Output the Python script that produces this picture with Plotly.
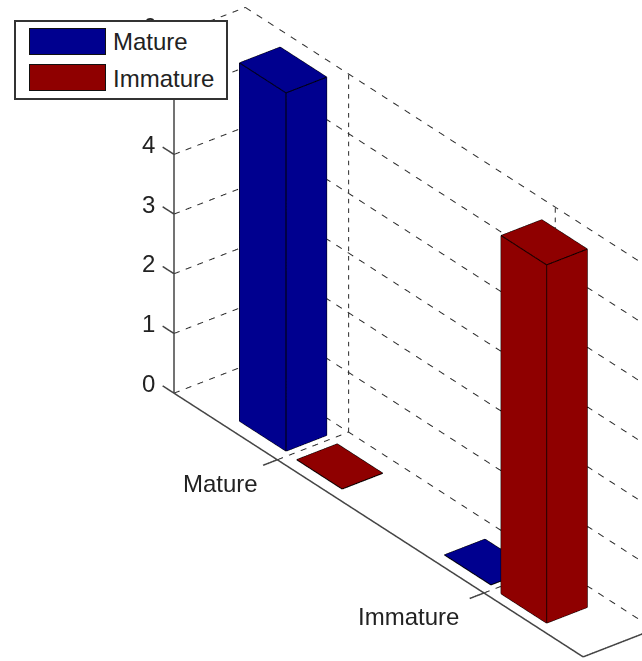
import numpy as np
import plotly.graph_objects as go

# ---- data ----
categories = ["Mature", "Immature"]
series_names = ["Mature", "Immature"]
mature_values = [6, 0]
immature_values = [0, 6]
z_ticks = [0, 1, 2, 3, 4, 5, 6]
x_ticks = [1, 2]
series_colors = ["#00008F", "#8F0000"]

W, H = 642, 661
X_LIM = (0.5, 2.48)
Y_LIM = (0.5, 1.5)
Z_LIM = (0, 6)
X_RANGE = (0.42, 2.5)
Y_RANGE = (0.28, 1.52)
Z_RANGE = (-0.02, 6.02)
BAR_X = [(-0.25, -0.025), (0.035, 0.255)]
BAR_Y = (0.67, 1.24)
BAR_Y_NUDGE = [[0.025, 0.0], [0.0, -0.03]]
GRID = "#2A2A2A"
AXIS = "#444444"
FONT = "Liberation Sans"
TEXT = dict(family=FONT, size=24, color="#222222")

# ---- view (orthographic, azimuth / elevation) ----
az, el = np.radians(52.2), np.radians(30)
sx, sy, sz = 336.0, 89.9, 68.7       # px per data unit on each axis
K = 329.4                            # px per scene unit
rx, ry, rz = X_RANGE[1] - X_RANGE[0], Y_RANGE[1] - Y_RANGE[0], Z_RANGE[1] - Z_RANGE[0]
ar = dict(x=rx * sx / K, y=ry * sy / K, z=rz * sz / K)
ux, uy = sx * np.cos(az), sx * np.sin(az) * np.sin(el)
vx, vy = sy * np.sin(az), -sy * np.cos(az) * np.sin(el)
wy = -sz * np.cos(el)
O = np.array([174.5, 393.0])


def screen(x, y, z):
    return O + (x - 0.5) * np.array([ux, uy]) + (y - 0.5) * np.array([vx, vy]) + z * np.array([0, wy])


mid = screen(sum(X_RANGE) / 2, sum(Y_RANGE) / 2, sum(Z_RANGE) / 2)
a, b = np.linalg.solve(np.array([[ux, vx], [uy, vy]]), np.array([W / 2, H / 2]) - mid)
center = np.array([a * sx / K, b * sy / K, 0.0])
direction = np.array([np.cos(el) * np.sin(az), -np.cos(el) * np.cos(az), np.sin(el)])
eye = center + 2.4 * direction


def segs(pairs):
    xs, ys, zs = [], [], []
    for p, q in pairs:
        xs += [p[0], q[0], None]
        ys += [p[1], q[1], None]
        zs += [p[2], q[2], None]
    return xs, ys, zs


def lines(pairs, color, width):
    xs, ys, zs = segs(pairs)
    return go.Scatter3d(x=xs, y=ys, z=zs, mode="lines", hoverinfo="skip", showlegend=False,
                        line=dict(color=color, width=width))


def dashed(p, q, period, on=0.48):
    """Split one grid line into dash pieces of a fixed on-screen period."""
    p, q = np.array(p, float), np.array(q, float)
    length = np.linalg.norm(screen(*q) - screen(*p))
    out = []
    for start in np.arange(0, length, period):
        t0, t1 = start / length, min(start + period * on, length) / length
        out.append((tuple(p + (q - p) * t0), tuple(p + (q - p) * t1)))
    return out


def box(x0, x1, y0, y1, h, color):
    xs = [x0, x1, x1, x0, x0, x1, x1, x0]
    ys = [y0, y0, y1, y1, y0, y0, y1, y1]
    zs = [0, 0, 0, 0, h, h, h, h]
    i = [0, 0, 4, 4, 0, 0, 1, 1, 2, 2, 3, 3]
    j = [1, 2, 5, 6, 1, 5, 2, 6, 3, 7, 0, 4]
    k = [2, 3, 6, 7, 5, 4, 6, 5, 7, 6, 4, 7]
    mesh = go.Mesh3d(x=xs, y=ys, z=zs, i=i, j=j, k=k, color=color, flatshading=True,
                     lighting=dict(ambient=1, diffuse=0, specular=0, fresnel=0, roughness=1),
                     hoverinfo="skip", showlegend=False, showscale=False)
    idx = [(0, 1), (1, 2), (2, 3), (3, 0), (4, 5), (5, 6), (6, 7), (7, 4), (0, 4), (1, 5), (2, 6), (3, 7)]
    pts = list(zip(xs, ys, zs))
    edge = lines([(pts[p], pts[q]) for p, q in idx], "#000000", 2)
    return [mesh, edge]


fig = go.Figure()

# dashed grid on the side wall, back wall and floor
grid = []
for z in z_ticks:
    grid += dashed((X_LIM[0], Y_LIM[0], z), (X_LIM[0], Y_LIM[1], z), 12.5)
    grid += dashed((X_LIM[0], Y_LIM[1], z), (X_LIM[1], Y_LIM[1], z), 13.5)
for x in x_ticks:
    grid += dashed((x, Y_LIM[0], 0), (x, Y_LIM[1], 0), 12.5)
    grid += dashed((x, Y_LIM[1], 0), (x, Y_LIM[1], Z_LIM[1]), 9.5)
fig.add_trace(lines(grid, GRID, 2))

# solid axes and ticks
axes = [((X_LIM[0], Y_LIM[0], 0), (X_LIM[0], Y_LIM[0], Z_LIM[1])),
        ((X_LIM[0], Y_LIM[0], 0), (X_LIM[1], Y_LIM[0], 0)),
        ((X_LIM[1], Y_LIM[0], 0), (X_LIM[1], Y_LIM[1], 0))]
axes += [((X_LIM[0], Y_LIM[0], z), (X_LIM[0] - 0.055, Y_LIM[0], z)) for z in z_ticks]
axes += [((x, Y_LIM[0], 0), (x, Y_LIM[0] - 0.2, 0)) for x in x_ticks]
fig.add_trace(lines(axes, AXIS, 3))

# bars
for gi, group in enumerate(x_ticks):
    for si, vals in enumerate([mature_values, immature_values]):
        nudge = BAR_Y_NUDGE[gi][si]
        for t in box(group + BAR_X[si][0], group + BAR_X[si][1], BAR_Y[0] + nudge, BAR_Y[1] + nudge,
                     vals[gi], series_colors[si]):
            fig.add_trace(t)

# tick labels anchored to the scene; the two that sit under the legend box go
# in the paper layer so that the box can cover them
scene_ann = []
paper_ann = []
Z_SHIFT = (-17, 10)
for z in z_ticks:
    if z >= 5:
        px, py = screen(X_LIM[0], Y_LIM[0], z)
        paper_ann.append(dict(xref="paper", yref="paper", x=(px + Z_SHIFT[0]) / W, y=1 - (py - Z_SHIFT[1]) / H,
                              xanchor="right", yanchor="middle", text=str(z), showarrow=False, font=TEXT))
    else:
        scene_ann.append(dict(x=X_LIM[0], y=Y_LIM[0], z=z, text=str(z), showarrow=False, xanchor="right",
                              yanchor="middle", xshift=Z_SHIFT[0], yshift=Z_SHIFT[1], font=TEXT))
for x, c, dx in zip(x_ticks, categories, [-17, -23]):
    scene_ann.append(dict(x=x, y=Y_LIM[0], z=0, text=c, showarrow=False, xanchor="right",
                          yanchor="middle", xshift=dx, yshift=-24, font=TEXT))


def px_ann(left, top, width, height, color, line, lw):
    return dict(xref="paper", yref="paper", x=left / W, y=1 - top / H, xanchor="left", yanchor="top",
                text=" ", showarrow=False, width=width, height=height, bgcolor=color,
                bordercolor=line, borderwidth=lw, borderpad=0)


# legend
paper_ann.append(px_ann(14, 20, 210, 76, "#FFFFFF", "#333333", 2))
for name, col, top in zip(series_names, series_colors, [28, 64]):
    paper_ann.append(px_ann(29, top, 75, 25, col, "#111111", 1))
    paper_ann.append(dict(xref="paper", yref="paper", x=111 / W, y=1 - (top + 14) / H, xanchor="left",
                          yanchor="middle", text=name, showarrow=False, font=TEXT))

axis_off = dict(visible=False, showgrid=False, zeroline=False, showbackground=False, showspikes=False)
fig.update_layout(
    width=W, height=H, autosize=False, margin=dict(l=0, r=0, t=0, b=0),
    paper_bgcolor="#FFFFFF", showlegend=False,
    annotations=paper_ann,
    scene=dict(
        domain=dict(x=[0, 1], y=[0, 1]),
        xaxis=dict(range=list(X_RANGE), **axis_off),
        yaxis=dict(range=list(Y_RANGE), **axis_off),
        zaxis=dict(range=list(Z_RANGE), **axis_off),
        aspectmode="manual", aspectratio=ar,
        camera=dict(projection=dict(type="orthographic"), up=dict(x=0, y=0, z=1),
                    center=dict(x=center[0], y=center[1], z=center[2]),
                    eye=dict(x=eye[0], y=eye[1], z=eye[2])),
        annotations=scene_ann,
        bgcolor="rgba(0,0,0,0)",
    ),
)
fig.write_html("out.html", config=dict(displayModeBar=False),
               post_script="document.body.style.margin='0';document.body.style.overflow='hidden';")
